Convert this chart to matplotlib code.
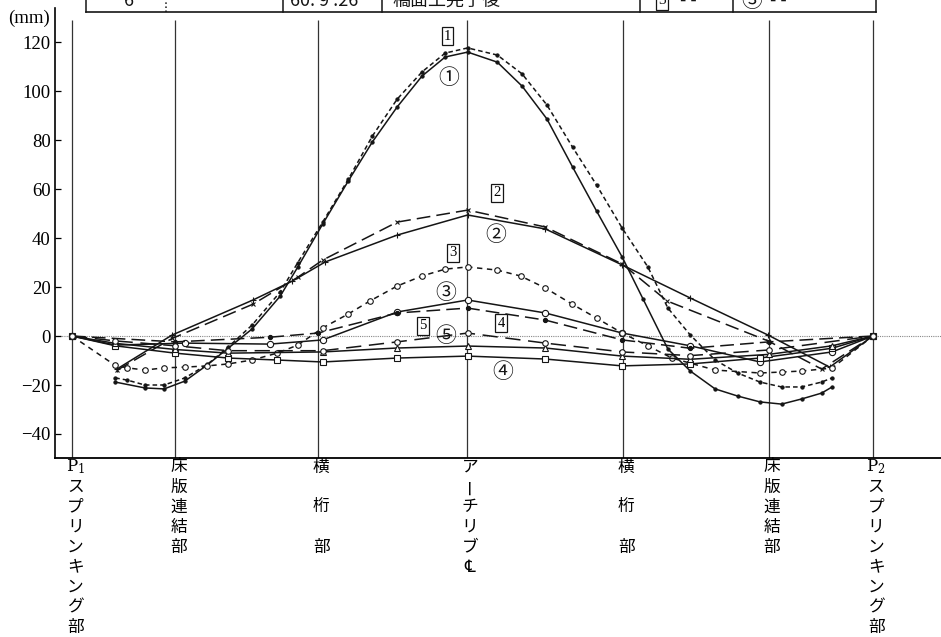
import matplotlib
matplotlib.use('Agg')
import matplotlib.pyplot as plt
from matplotlib import transforms
from matplotlib.lines import Line2D
from matplotlib.font_manager import findfont, FontProperties
from matplotlib.ft2font import FT2Font

plt.rcParams['font.family'] = ['Noto Sans CJK JP', 'DejaVu Sans']
plt.rcParams['mathtext.fontset'] = 'dejavuserif'

# 測点位置 (P1=0, P2=100)
stations = [0, 12.9, 30.7, 49.3, 68.8, 87.0, 100]
station_labels = [
    ['$\\mathrm{P}_1$', 'ス', 'プ', 'リ', 'ン', 'キ', 'ン', 'グ', '部'],
    ['床', '版', '連', '結', '部'],
    ['横', '桁', '部'],
    ['ア', 'ー', 'チ', 'リ', 'ブ', '℄'],
    ['横', '桁', '部'],
    ['床', '版', '連', '結', '部'],
    ['$\\mathrm{P}_2$', 'ス', 'プ', 'リ', 'ン', 'キ', 'ン', 'グ', '部'],
]
yticks = [-40, -20, 0, 20, 40, 60, 80, 100, 120]

# たわみ (mm)
x1 = [5.4, 9.1, 11.5, 14.1, 16.9, 22.5, 26.0, 28.2, 31.3, 34.5, 37.5, 40.6, 43.7, 46.6,
      49.4, 53.1, 56.2, 59.3, 62.5, 65.5, 68.7, 71.3, 74.4, 77.2, 80.3, 83.1, 85.9, 88.6,
      91.1, 93.6, 94.9]
v1 = [-18.8, -21.2, -21.6, -18.4, -11.8, 2.9, 16.3, 28.2, 45.7, 63.3, 79.2, 93.5, 106.1,
      113.9, 115.9, 111.8, 102.0, 88.6, 69.0, 51.0, 32.2, 15.1, -5.3, -14.3, -21.6, -24.5,
      -26.9, -27.8, -25.7, -23.3, -20.8]

x1b = [5.4, 6.9, 9.1, 11.5, 14.1, 16.9, 19.5, 22.5, 26.0, 28.2, 31.3, 34.5, 37.5, 40.6,
       43.7, 46.6, 49.4, 53.1, 56.2, 59.3, 62.5, 65.5, 68.7, 71.9, 74.4, 77.2, 80.3, 83.1,
       85.9, 88.6, 91.1, 93.6, 94.9]
v1b = [-17.1, -18.0, -20.0, -20.0, -17.1, -11.6, -4.5, 4.5, 18.0, 30.0, 46.5, 64.0, 81.6,
       96.7, 107.8, 115.5, 117.6, 114.7, 107.0, 94.3, 77.1, 61.6, 44.0, 28.2, 11.4, 0.4,
       -9.8, -15.1, -18.8, -20.8, -20.8, -18.8, -17.1]

x2 = [5.6, 12.5, 22.6, 27.5, 31.6, 40.6, 49.4, 59.1, 68.7, 77.2, 86.9, 94.6, 100]
v2 = [-13.5, 0.4, 14.7, 22.4, 30.2, 41.2, 49.4, 43.7, 29.0, 15.5, 0.4, -12.7, 0]

x2b = [5.6, 12.5, 22.6, 28.2, 31.3, 40.6, 49.4, 59.1, 68.7, 74.3, 86.9, 93.6, 100]
v2b = [-14.0, -1.0, 13.0, 24.0, 31.0, 46.5, 51.4, 44.5, 29.4, 14.3, -2.0, -13.5, 0]

x3 = [0, 5.4, 14.1, 24.7, 31.3, 40.6, 49.4, 59.1, 68.7, 77.2, 85.9, 94.9, 100]
v3 = [0, -3.7, -2.9, -3.3, -1.6, 9.8, 14.7, 9.4, 1.2, -4.0, -10.6, -6.5, 0]

x3b = [0, 5.4, 6.9, 9.1, 11.5, 14.1, 16.9, 19.5, 22.5, 25.6, 28.2, 31.3, 34.5, 37.2, 40.6,
       43.7, 46.6, 49.4, 53.1, 56.0, 59.1, 62.4, 65.5, 68.7, 71.9, 74.9, 80.3, 85.9, 88.6,
       91.1, 94.9, 100]
v3b = [0, -12.0, -13.0, -13.9, -13.0, -12.7, -12.2, -11.4, -9.8, -7.0, -3.7, 3.3, 9.0, 14.3,
       20.4, 24.5, 27.3, 28.2, 26.9, 24.5, 19.6, 13.1, 7.3, 1.2, -4.0, -9.0, -13.9, -15.1,
       -14.7, -14.3, -13.1, 0]

x4 = [0, 5.4, 12.9, 19.5, 25.6, 31.3, 40.6, 49.4, 59.1, 68.7, 77.2, 85.9, 94.9, 100]
v4 = [0, -4.0, -7.0, -9.0, -9.8, -10.6, -9.0, -8.2, -9.4, -12.2, -11.4, -9.0, -5.0, 0]

x4b = [0, 12.9, 24.7, 30.7, 40.6, 49.4, 59.1, 68.7, 77.2, 87.0, 100]
v4b = [0, -2.4, -0.5, 1.2, 9.4, 11.4, 6.5, -1.6, -5.0, -2.4, 0]

x5 = [0, 5.4, 12.9, 19.5, 31.3, 40.6, 49.4, 59.1, 68.7, 77.2, 87.0, 94.9, 100]
v5 = [0, -3.0, -5.5, -7.0, -6.5, -4.9, -4.1, -4.9, -8.2, -9.5, -7.5, -4.0, 0]

x5b = [0, 5.4, 12.9, 19.5, 31.3, 40.6, 49.4, 59.1, 68.7, 77.2, 87.0, 100]
v5b = [0, -2.0, -4.0, -6.0, -6.0, -2.4, 1.2, -2.9, -6.5, -8.0, -5.7, 0]

# 曲線番号ラベル位置 (box = 四角囲み, circ = 丸囲み)
label_text = ['1', '1', '2', '2', '3', '3', '4', '4', '5', '5']
label_kind = ['box', 'circ', 'box', 'circ', 'box', 'circ', 'box', 'circ', 'box', 'circ']
label_x = [46.9, 47.1, 53.1, 52.9, 47.6, 46.7, 53.6, 53.8, 43.8, 46.7]
label_y = [122.4, 105.3, 58.4, 41.2, 33.9, 17.6, 5.3, -14.7, 4.1, 0.0]


def font_with(ch, names):
    for n in names:
        try:
            path = findfont(FontProperties(family=n), fallback_to_default=False)
            if ord(ch) in FT2Font(path).get_charmap():
                return n
        except Exception:
            pass
    return None


circ_font = font_with('\u2460', ['Noto Sans CJK JP', 'Noto Sans CJK SC', 'DejaVu Sans',
                                 'DejaVu Serif', 'Noto Sans', 'Liberation Serif',
                                 'Liberation Sans', 'Roboto', 'Open Sans', 'Lato', 'Inter'])


def circled(ax_or_fig, x, y, digit, size, **kw):
    if circ_font:
        return ax_or_fig.text(x, y, chr(0x2460 + int(digit) - 1), ha='center', va='center',
                              fontsize=size, family=[circ_font, 'DejaVu Sans'], **kw)
    return ax_or_fig.text(x, y, digit, ha='center', va='center', fontsize=size * 0.8,
                          family='Liberation Serif',
                          bbox=dict(boxstyle='circle,pad=0.12', fc='white', ec='#151515', lw=0.9),
                          **kw)


W, H = 941, 637
fig = plt.figure(figsize=(W / 100, H / 100), dpi=100)
ax = fig.add_axes([55 / W, (H - 458) / H, (W - 55) / W, (458 - 8) / H])
ax.set_xlim(-2.12, 108.5)
ax.set_ylim(-49.8, 133.9)

ink = '#151515'
ax.axhline(0, color='#888888', lw=0.8, ls=(0, (1, 1)), zorder=1)
ax.vlines(stations, -49.8, 129, color='#333333', lw=0.9, zorder=1)

series = [
    (x1, v1, '-', 'o', 2.3, ink),
    (x1b, v1b, (0, (3, 2)), 'o', 2.3, ink),
    (x2, v2, '-', '+', 4.5, ink),
    (x2b, v2b, (0, (9, 4)), 'x', 3.5, ink),
    (x3, v3, '-', 'o', 4.5, 'white'),
    (x3b, v3b, (0, (3.5, 3)), 'o', 4.0, 'white'),
    (x4, v4, '-', 's', 4.0, 'white'),
    (x4b, v4b, (0, (9, 4)), 'o', 3.0, ink),
    (x5, v5, '-', '^', 4.0, 'white'),
    (x5b, v5b, (0, (10, 5)), 'o', 4.0, 'white'),
]
for xs, vs, ls, mk, ms, mfc in series:
    ax.plot(xs, vs, color=ink, lw=1.1, ls=ls, marker=mk, ms=ms, mfc=mfc,
            mec=ink, mew=0.8, zorder=3)

for t, kind, lx, ly in zip(label_text, label_kind, label_x, label_y):
    if kind == 'box':
        ax.text(lx, ly, t, ha='center', va='center', fontsize=10.5,
                family='Liberation Serif', zorder=5,
                bbox=dict(boxstyle='square,pad=0.15', fc='white', ec=ink, lw=0.9))
    else:
        circled(ax, lx, ly, t, 15, color=ink, zorder=5)

for side in ['top', 'right']:
    ax.spines[side].set_visible(False)
ax.spines['left'].set_linewidth(1.2)
ax.spines['bottom'].set_linewidth(1.3)
ax.set_xticks([])
ax.set_yticks(yticks)
ax.set_yticklabels([f'{t}'.replace('-', '\u2212') for t in yticks],
                   family='Liberation Serif', fontsize=13.5)
ax.tick_params(axis='y', direction='in', length=4, width=0.9, pad=3)

fig.text(8 / W, 1 - 18 / H, '(mm)', family='Liberation Serif', fontsize=13.5,
         ha='left', va='center')

# 下部の縦書きラベル
blend = transforms.blended_transform_factory(ax.transData, fig.transFigure)
for sx, chars in zip(stations, station_labels):
    steps = [0, 2, 4] if chars[0] == '横' else range(len(chars))
    for k, ch in zip(steps, chars):
        y = 1 - (467 + 20 * k) / H
        ax.text(sx + 0.4, y, ch, transform=blend, ha='center', va='center',
                fontsize=12, rotation=90 if ch == 'ー' else 0, clip_on=False)

# 上部の表 (一部のみ見えている)
ty = 1 - 12 / H
fig.add_artist(Line2D([86 / W, 876 / W], [ty, ty], color=ink, lw=1.2))
for sx, sty in [(86, '-'), (166, ':'), (283, '-'), (382, '-'), (640, '-'), (733, '-'), (876, '-')]:
    fig.add_artist(Line2D([sx / W, sx / W], [ty, 1], color=ink, lw=1.1, ls=sty))
for tx, tt in [(124, '6'), (290, '60. 9 .26'), (392, '橋面工完了後')]:
    fig.text(tx / W, 1 - 1 / H, tt, fontsize=13, ha='left', va='center', color=ink)
fig.text(662 / W, 1 - 1 / H, '3', fontsize=11, ha='center', va='center',
         family='Liberation Serif', color=ink,
         bbox=dict(boxstyle='square,pad=0.15', fc='white', ec=ink, lw=0.9))
fig.text(680 / W, 1 - 1 / H, '- -', fontsize=13, ha='left', va='center', color=ink)
circled(fig, 752 / W, 1 - 1 / H, '3', 15, color=ink)
fig.text(770 / W, 1 - 1 / H, '- -', fontsize=13, ha='left', va='center', color=ink)

fig.savefig('out.png', dpi=100, facecolor='white')
